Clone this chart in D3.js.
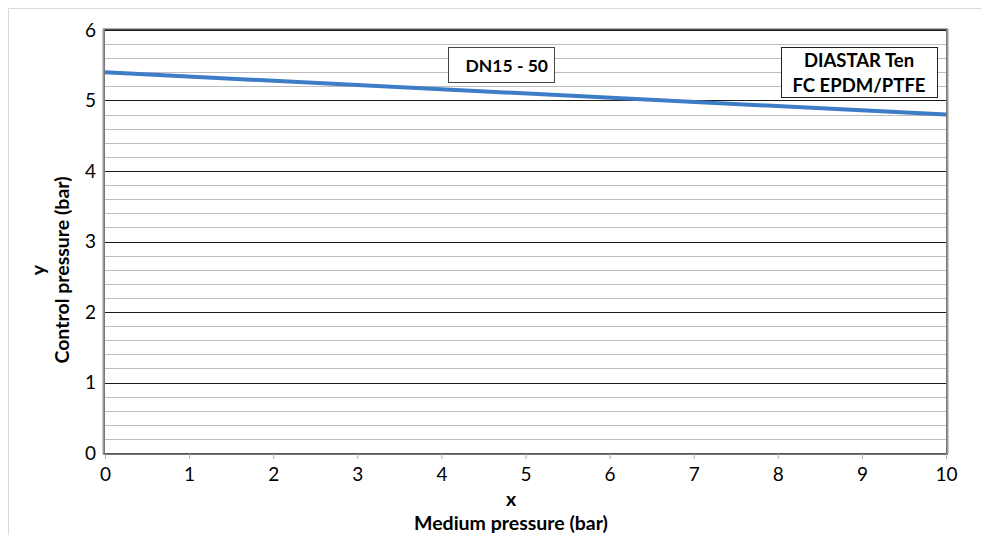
<!DOCTYPE html>
<html><head><meta charset="utf-8">
<script src="https://cdn.jsdelivr.net/npm/d3@7"></script>
<style>body{margin:0;background:#fff}svg{display:block}</style>
</head><body>
<script>
const xValues = [0, 10];
const yValues = [5.4, 4.8];
const xTicks = [0,1,2,3,4,5,6,7,8,9,10];
const yTicks = [0,1,2,3,4,5,6];
const label1 = ["DN15 - 50"];
const label2 = ["DIASTAR Ten", "FC EPDM/PTFE"];
const xTitle = ["x", "Medium pressure (bar)"];
const yTitle = ["y", "Control pressure (bar)"];

const W = 981, H = 535;
const m = {l:105, r:946, t:30, b:453};
const font = "Lato, 'Open Sans', sans-serif";
const svg = d3.select("body").append("svg").attr("width", W).attr("height", H);

// outer chart border
svg.append("path").attr("d", `M8.5,${H} V8.5 H${W}`).attr("fill","none").attr("stroke","#d9d9d9").attr("stroke-width",1);

const x = d3.scaleLinear().domain([0,10]).range([m.l, m.r]);
const y = d3.scaleLinear().domain([0,6]).range([m.b, m.t]);

// minor gridlines
const minor = d3.range(0, 6.0001, 0.2).filter(v => Math.abs(v - Math.round(v)) > 1e-6);
svg.append("g").selectAll("line").data(minor).join("line")
  .attr("x1", m.l).attr("x2", m.r)
  .attr("y1", d => Math.round(y(d))+0.5).attr("y2", d => Math.round(y(d))+0.5)
  .attr("stroke", "#bdbdbd").attr("stroke-width", 1);
// major gridlines
svg.append("g").selectAll("line").data(yTicks).join("line")
  .attr("x1", m.l).attr("x2", m.r)
  .attr("y1", d => Math.round(y(d))+0.5).attr("y2", d => Math.round(y(d))+0.5)
  .attr("stroke", "#1a1a1a").attr("stroke-width", 1);

// plot border
svg.append("rect").attr("x", m.l-0.5).attr("y", m.t-0.5).attr("width", m.r-m.l+1).attr("height", m.b-m.t+1)
  .attr("fill","none").attr("stroke","#555").attr("stroke-width",1);
svg.append("line").attr("x1", m.l-1.5).attr("x2", m.l-1.5).attr("y1", m.t-1).attr("y2", m.b+1).attr("stroke","#999").attr("stroke-width",2);
svg.append("line").attr("x1", m.r+1.5).attr("x2", m.r+1.5).attr("y1", m.t-1).attr("y2", m.b+1).attr("stroke","#999").attr("stroke-width",2);
svg.append("line").attr("x1", m.l-2).attr("x2", m.r+2).attr("y1", m.t-1.5).attr("y2", m.t-1.5).attr("stroke","#aaa").attr("stroke-width",1);
svg.append("line").attr("x1", m.l-2).attr("x2", m.r+2).attr("y1", m.b+1.5).attr("y2", m.b+1.5).attr("stroke","#777").attr("stroke-width",1);

// x axis
const xAxis = d3.axisBottom(x).tickValues(xTicks).tickSize(5).tickPadding(9).tickFormat(d3.format("d"));
const gx = svg.append("g").attr("transform", `translate(0,${m.b+1})`).call(xAxis);
gx.select(".domain").remove();
gx.selectAll(".tick line").attr("stroke","#aaa");
gx.selectAll(".tick text").attr("font-family", font).attr("font-size", 19).attr("fill","#000");

// y axis
const yAxis = d3.axisLeft(y).tickValues(yTicks).tickSize(0).tickPadding(9).tickFormat(d3.format("d"));
const gy = svg.append("g").attr("transform", `translate(${m.l},0)`).call(yAxis);
gy.select(".domain").remove();
gy.selectAll(".tick text").attr("font-family", font).attr("font-size", 19).attr("fill","#000");

// data line
const pts = xValues.map((v,i) => [v, yValues[i]]);
svg.append("path").datum(pts)
  .attr("d", d3.line().x(d => x(d[0])).y(d => y(d[1])))
  .attr("fill","none").attr("stroke","#3d7cc6").attr("stroke-width",4);

// label boxes
svg.append("rect").attr("x", 448.5).attr("y", 47.5).attr("width", 106).attr("height", 35)
  .attr("fill","#fff").attr("stroke","#444").attr("stroke-width",1);
svg.append("text").attr("x", 548).attr("y", 72).attr("text-anchor","end")
  .attr("font-family", font).attr("font-weight","bold").attr("font-size", 17.5).text(label1[0]);

svg.append("rect").attr("x", 781.5).attr("y", 47.5).attr("width", 156).attr("height", 50)
  .attr("fill","#fff").attr("stroke","#222").attr("stroke-width",1);
svg.selectAll("text.l2").data(label2).join("text").attr("class","l2")
  .attr("x", 859).attr("y", (d,i) => 67 + i*25).attr("text-anchor","middle")
  .attr("font-family", font).attr("font-weight","bold").attr("font-size", 18.5).text(d => d);

// axis titles
svg.selectAll("text.xt").data(xTitle).join("text").attr("class","xt")
  .attr("x", 511).attr("y", (d,i) => 506 + i*24).attr("text-anchor","middle")
  .attr("font-family", font).attr("font-weight","bold").attr("font-size", 19.5).text(d => d);
svg.selectAll("text.yt").data(yTitle).join("text").attr("class","yt")
  .attr("transform", (d,i) => `translate(${45 + i*24},270) rotate(-90)`).attr("text-anchor","middle")
  .attr("font-family", font).attr("font-weight","bold").attr("font-size", 19.5).text(d => d);
</script>
</body></html>
